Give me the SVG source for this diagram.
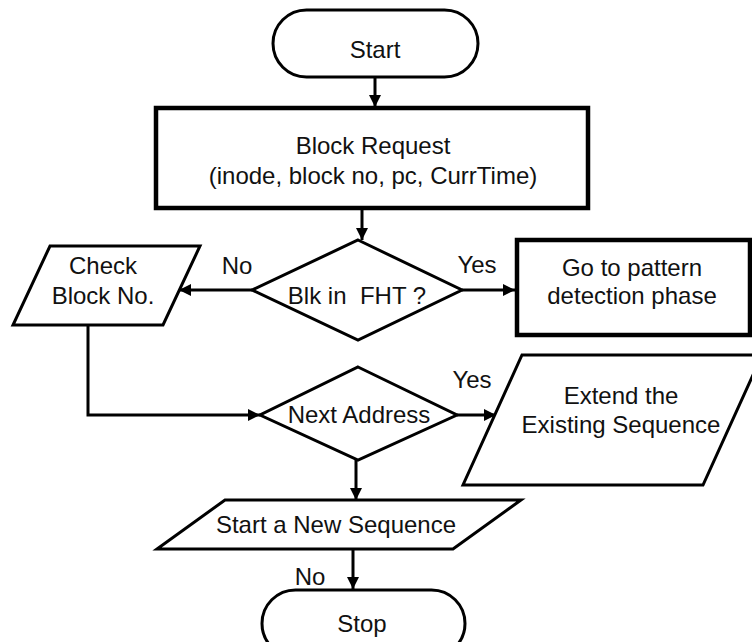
<svg xmlns="http://www.w3.org/2000/svg" width="752" height="642" viewBox="0 0 752 642">
  <style>
    .shape { fill: #ffffff; stroke: #000000; stroke-width: 3; stroke-linejoin: miter; }
    .thick { stroke-width: 4.5; }
    .lbl { font-family: "Liberation Sans", Arial, sans-serif; font-size: 24px; fill: #111111; text-anchor: middle; }
    .edge { fill: none; stroke: #000000; stroke-width: 3; marker-end: url(#arrow); }
  </style>
  <defs>
    <marker id="arrow" markerWidth="12" markerHeight="12" refX="12" refY="6" orient="auto" markerUnits="userSpaceOnUse">
      <path d="M0,0 L12,6 L0,12 z" fill="#000000"/>
    </marker>
  </defs>

  <rect width="752" height="642" fill="#ffffff"/>

  <!-- connectors -->
  <g id="connectors">
    <path class="edge" d="M375,77 V107"/>
    <path class="edge" d="M362,210 V240"/>
    <path class="edge" d="M252,290 H179"/>
    <path class="edge" d="M462,290 H515"/>
    <path class="edge" d="M88,325 V415 H260"/>
    <path class="edge" d="M457,415 H496"/>
    <path class="edge" d="M356,460 V500"/>
    <path class="edge" d="M353,549 V589"/>
  </g>

  <!-- terminator: Start -->
  <g id="start">
    <rect class="shape" x="273" y="10" width="205" height="67" rx="33.5"/>
    <text class="lbl" x="375" y="58">Start</text>
  </g>

  <!-- process: Block Request -->
  <g id="block-request">
    <rect class="shape thick" x="156" y="108" width="432" height="100"/>
    <text class="lbl" x="373" y="154">Block Request</text>
    <text class="lbl" x="373" y="184">(inode, block no, pc, CurrTime)</text>
  </g>

  <!-- decision: Blk in FHT ? -->
  <g id="blk-in-fht">
    <polygon class="shape" points="358,240 462,290 358,340 252,290"/>
    <text class="lbl" x="357" y="304" xml:space="preserve">Blk in  FHT ?</text>
  </g>

  <!-- data: Check Block No. -->
  <g id="check-block">
    <polygon class="shape" points="50,246 200,246 163,325 13,325"/>
    <text class="lbl" x="103" y="274">Check</text>
    <text class="lbl" x="103" y="304">Block No.</text>
  </g>

  <!-- process: Go to pattern detection phase -->
  <g id="pattern-detection">
    <rect class="shape thick" x="517" y="240" width="233" height="95"/>
    <text class="lbl" x="632" y="276">Go to pattern</text>
    <text class="lbl" x="632" y="304">detection phase</text>
  </g>

  <!-- decision: Next Address -->
  <g id="next-address">
    <polygon class="shape" points="358,367 457,415 358,460 260,415"/>
    <text class="lbl" x="359" y="423">Next Address</text>
  </g>

  <!-- data: Extend the Existing Sequence -->
  <g id="extend-sequence">
    <polygon class="shape" points="522,355 762,355 703,485 463,485"/>
    <text class="lbl" x="621" y="404">Extend the</text>
    <text class="lbl" x="621" y="433">Existing Sequence</text>
  </g>

  <!-- data: Start a New Sequence -->
  <g id="new-sequence">
    <polygon class="shape" points="225,500 521,500 453,549 157,549"/>
    <text class="lbl" x="336" y="533">Start a New Sequence</text>
  </g>

  <!-- terminator: Stop -->
  <g id="stop">
    <rect class="shape" x="262" y="590" width="203" height="67" rx="33.5"/>
    <text class="lbl" x="362" y="632">Stop</text>
  </g>

  <!-- branch labels -->
  <g id="edge-labels">
    <text class="lbl" x="237" y="274">No</text>
    <text class="lbl" x="477" y="273">Yes</text>
    <text class="lbl" x="472" y="388">Yes</text>
    <text class="lbl" x="310" y="585">No</text>
  </g>
</svg>
